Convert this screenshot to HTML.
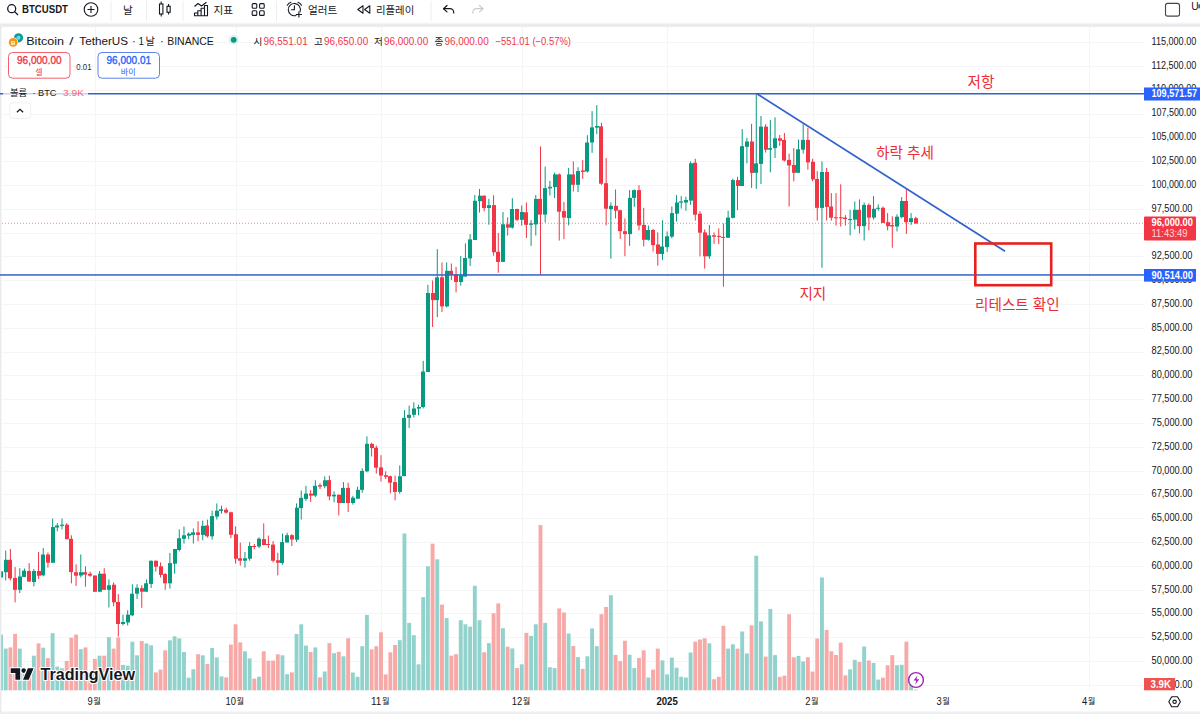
<!DOCTYPE html>
<html><head><meta charset="utf-8"><title>BTCUSDT</title><style>html,body{margin:0;padding:0;background:#fff;overflow:hidden}body{width:1200px;height:714px;font-family:"Liberation Sans","Noto Sans CJK KR",sans-serif}</style></head><body>
<svg width="1200" height="714" viewBox="0 0 1200 714" font-family="'Liberation Sans', 'Noto Sans CJK KR', sans-serif" style="display:block">
<rect width="1200" height="714" fill="#ffffff"/>
<rect x="0" y="23.500" width="1200" height="4" fill="#ebecee"/>
<rect x="0" y="22.500" width="1200" height="1" fill="#f5f6f7"/>
<rect x="0" y="27" width="1.3" height="687" fill="#e9eaec"/>
<path d="M1.300 714V30a3 3 0 0 1 3-3H1200V714Z" fill="#ffffff"/>
<rect x="0" y="711.500" width="1200" height="2.500" fill="#eeeff0"/>
<rect x="2" y="42" width="1142" height="1" fill="#f4f5f7"/>
<rect x="2" y="66" width="1142" height="1" fill="#f4f5f7"/>
<rect x="2" y="90" width="1142" height="1" fill="#f4f5f7"/>
<rect x="2" y="114" width="1142" height="1" fill="#f4f5f7"/>
<rect x="2" y="137" width="1142" height="1" fill="#f4f5f7"/>
<rect x="2" y="161" width="1142" height="1" fill="#f4f5f7"/>
<rect x="2" y="185" width="1142" height="1" fill="#f4f5f7"/>
<rect x="2" y="209" width="1142" height="1" fill="#f4f5f7"/>
<rect x="2" y="233" width="1142" height="1" fill="#f4f5f7"/>
<rect x="2" y="256" width="1142" height="1" fill="#f4f5f7"/>
<rect x="2" y="280" width="1142" height="1" fill="#f4f5f7"/>
<rect x="2" y="304" width="1142" height="1" fill="#f4f5f7"/>
<rect x="2" y="328" width="1142" height="1" fill="#f4f5f7"/>
<rect x="2" y="352" width="1142" height="1" fill="#f4f5f7"/>
<rect x="2" y="375" width="1142" height="1" fill="#f4f5f7"/>
<rect x="2" y="399" width="1142" height="1" fill="#f4f5f7"/>
<rect x="2" y="423" width="1142" height="1" fill="#f4f5f7"/>
<rect x="2" y="447" width="1142" height="1" fill="#f4f5f7"/>
<rect x="2" y="471" width="1142" height="1" fill="#f4f5f7"/>
<rect x="2" y="494" width="1142" height="1" fill="#f4f5f7"/>
<rect x="2" y="518" width="1142" height="1" fill="#f4f5f7"/>
<rect x="2" y="542" width="1142" height="1" fill="#f4f5f7"/>
<rect x="2" y="566" width="1142" height="1" fill="#f4f5f7"/>
<rect x="2" y="590" width="1142" height="1" fill="#f4f5f7"/>
<rect x="2" y="613" width="1142" height="1" fill="#f4f5f7"/>
<rect x="2" y="637" width="1142" height="1" fill="#f4f5f7"/>
<rect x="2" y="661" width="1142" height="1" fill="#f4f5f7"/>
<rect x="2" y="685" width="1142" height="1" fill="#f4f5f7"/>
<rect x="95" y="27" width="1" height="663" fill="#f4f5f7"/>
<rect x="236" y="27" width="1" height="663" fill="#f4f5f7"/>
<rect x="381" y="27" width="1" height="663" fill="#f4f5f7"/>
<rect x="522" y="27" width="1" height="663" fill="#f4f5f7"/>
<rect x="667" y="27" width="1" height="663" fill="#f4f5f7"/>
<rect x="813" y="27" width="1" height="663" fill="#f4f5f7"/>
<rect x="1089" y="27" width="1" height="663" fill="#f4f5f7"/>
<g shape-rendering="auto"><rect x="-0.93" y="634.6" width="3.9" height="55.7" fill="#92d2cc"/>
<rect x="3.76" y="648.6" width="3.9" height="41.7" fill="#92d2cc"/>
<rect x="8.45" y="647.4" width="3.9" height="42.9" fill="#f7a9a7"/>
<rect x="13.14" y="633.9" width="3.9" height="56.4" fill="#f7a9a7"/>
<rect x="17.83" y="648.6" width="3.9" height="41.7" fill="#92d2cc"/>
<rect x="22.53" y="670.3" width="3.9" height="20.0" fill="#92d2cc"/>
<rect x="27.22" y="672.3" width="3.9" height="18.0" fill="#f7a9a7"/>
<rect x="31.91" y="655.7" width="3.9" height="34.6" fill="#92d2cc"/>
<rect x="36.60" y="643.4" width="3.9" height="46.9" fill="#f7a9a7"/>
<rect x="41.29" y="647.7" width="3.9" height="42.6" fill="#92d2cc"/>
<rect x="45.98" y="658.2" width="3.9" height="32.1" fill="#f7a9a7"/>
<rect x="50.67" y="633.2" width="3.9" height="57.1" fill="#92d2cc"/>
<rect x="55.36" y="666.7" width="3.9" height="23.6" fill="#92d2cc"/>
<rect x="60.05" y="668.3" width="3.9" height="22.0" fill="#92d2cc"/>
<rect x="64.74" y="661.0" width="3.9" height="29.3" fill="#f7a9a7"/>
<rect x="69.44" y="637.7" width="3.9" height="52.6" fill="#f7a9a7"/>
<rect x="74.13" y="634.6" width="3.9" height="55.7" fill="#f7a9a7"/>
<rect x="78.82" y="649.2" width="3.9" height="41.1" fill="#92d2cc"/>
<rect x="83.51" y="647.4" width="3.9" height="42.9" fill="#f7a9a7"/>
<rect x="88.20" y="672.3" width="3.9" height="18.0" fill="#f7a9a7"/>
<rect x="92.89" y="658.9" width="3.9" height="31.4" fill="#f7a9a7"/>
<rect x="97.58" y="655.7" width="3.9" height="34.6" fill="#92d2cc"/>
<rect x="102.27" y="655.7" width="3.9" height="34.6" fill="#f7a9a7"/>
<rect x="106.96" y="637.2" width="3.9" height="53.1" fill="#92d2cc"/>
<rect x="111.65" y="648.6" width="3.9" height="41.7" fill="#f7a9a7"/>
<rect x="116.34" y="637.4" width="3.9" height="52.9" fill="#f7a9a7"/>
<rect x="121.04" y="664.9" width="3.9" height="25.4" fill="#92d2cc"/>
<rect x="125.73" y="665.7" width="3.9" height="24.6" fill="#92d2cc"/>
<rect x="130.42" y="641.7" width="3.9" height="48.6" fill="#92d2cc"/>
<rect x="135.11" y="655.3" width="3.9" height="35.0" fill="#92d2cc"/>
<rect x="139.80" y="641.0" width="3.9" height="49.3" fill="#f7a9a7"/>
<rect x="144.49" y="643.4" width="3.9" height="46.9" fill="#92d2cc"/>
<rect x="149.18" y="645.3" width="3.9" height="45.0" fill="#92d2cc"/>
<rect x="153.87" y="672.4" width="3.9" height="17.9" fill="#f7a9a7"/>
<rect x="158.56" y="669.6" width="3.9" height="20.7" fill="#f7a9a7"/>
<rect x="163.25" y="650.3" width="3.9" height="40.0" fill="#f7a9a7"/>
<rect x="167.95" y="640.3" width="3.9" height="50.0" fill="#92d2cc"/>
<rect x="172.64" y="636.3" width="3.9" height="54.0" fill="#92d2cc"/>
<rect x="177.33" y="638.4" width="3.9" height="51.9" fill="#92d2cc"/>
<rect x="182.02" y="652.0" width="3.9" height="38.3" fill="#92d2cc"/>
<rect x="186.71" y="677.7" width="3.9" height="12.6" fill="#92d2cc"/>
<rect x="191.40" y="669.2" width="3.9" height="21.1" fill="#92d2cc"/>
<rect x="196.09" y="654.2" width="3.9" height="36.1" fill="#f7a9a7"/>
<rect x="200.78" y="655.3" width="3.9" height="35.0" fill="#92d2cc"/>
<rect x="205.47" y="663.9" width="3.9" height="26.4" fill="#f7a9a7"/>
<rect x="210.17" y="648.0" width="3.9" height="42.3" fill="#92d2cc"/>
<rect x="214.86" y="657.4" width="3.9" height="32.9" fill="#92d2cc"/>
<rect x="219.55" y="676.4" width="3.9" height="13.9" fill="#92d2cc"/>
<rect x="224.24" y="677.4" width="3.9" height="12.9" fill="#f7a9a7"/>
<rect x="228.93" y="644.6" width="3.9" height="45.7" fill="#f7a9a7"/>
<rect x="233.62" y="624.3" width="3.9" height="66.0" fill="#f7a9a7"/>
<rect x="238.31" y="642.4" width="3.9" height="47.9" fill="#f7a9a7"/>
<rect x="243.00" y="651.3" width="3.9" height="39.0" fill="#92d2cc"/>
<rect x="247.69" y="658.4" width="3.9" height="31.9" fill="#92d2cc"/>
<rect x="252.38" y="678.6" width="3.9" height="11.7" fill="#f7a9a7"/>
<rect x="257.07" y="676.7" width="3.9" height="13.6" fill="#92d2cc"/>
<rect x="261.77" y="651.3" width="3.9" height="39.0" fill="#f7a9a7"/>
<rect x="266.46" y="660.6" width="3.9" height="29.7" fill="#f7a9a7"/>
<rect x="271.15" y="660.6" width="3.9" height="29.7" fill="#f7a9a7"/>
<rect x="275.84" y="654.3" width="3.9" height="36.0" fill="#f7a9a7"/>
<rect x="280.53" y="655.3" width="3.9" height="35.0" fill="#92d2cc"/>
<rect x="285.22" y="674.2" width="3.9" height="16.1" fill="#92d2cc"/>
<rect x="289.91" y="672.4" width="3.9" height="17.9" fill="#f7a9a7"/>
<rect x="294.60" y="633.9" width="3.9" height="56.4" fill="#92d2cc"/>
<rect x="299.29" y="624.3" width="3.9" height="66.0" fill="#92d2cc"/>
<rect x="303.99" y="645.6" width="3.9" height="44.7" fill="#92d2cc"/>
<rect x="308.68" y="652.0" width="3.9" height="38.3" fill="#f7a9a7"/>
<rect x="313.37" y="647.4" width="3.9" height="42.9" fill="#92d2cc"/>
<rect x="318.06" y="677.3" width="3.9" height="13.0" fill="#f7a9a7"/>
<rect x="322.75" y="671.5" width="3.9" height="18.8" fill="#92d2cc"/>
<rect x="327.44" y="643.1" width="3.9" height="47.2" fill="#f7a9a7"/>
<rect x="332.13" y="653.2" width="3.9" height="37.1" fill="#92d2cc"/>
<rect x="336.82" y="651.8" width="3.9" height="38.5" fill="#f7a9a7"/>
<rect x="341.51" y="656.3" width="3.9" height="34.0" fill="#92d2cc"/>
<rect x="346.20" y="638.3" width="3.9" height="52.0" fill="#f7a9a7"/>
<rect x="350.90" y="672.5" width="3.9" height="17.8" fill="#92d2cc"/>
<rect x="355.59" y="676.8" width="3.9" height="13.5" fill="#92d2cc"/>
<rect x="360.28" y="646.2" width="3.9" height="44.1" fill="#92d2cc"/>
<rect x="364.97" y="614.9" width="3.9" height="75.4" fill="#92d2cc"/>
<rect x="369.66" y="649.4" width="3.9" height="40.9" fill="#f7a9a7"/>
<rect x="374.35" y="646.2" width="3.9" height="44.1" fill="#f7a9a7"/>
<rect x="379.04" y="632.3" width="3.9" height="58.0" fill="#f7a9a7"/>
<rect x="383.73" y="674.4" width="3.9" height="15.9" fill="#f7a9a7"/>
<rect x="388.42" y="652.3" width="3.9" height="38.0" fill="#f7a9a7"/>
<rect x="393.11" y="645.0" width="3.9" height="45.3" fill="#f7a9a7"/>
<rect x="397.81" y="640.2" width="3.9" height="50.1" fill="#92d2cc"/>
<rect x="402.50" y="533.5" width="3.9" height="156.8" fill="#92d2cc"/>
<rect x="407.19" y="622.9" width="3.9" height="67.4" fill="#92d2cc"/>
<rect x="411.88" y="635.2" width="3.9" height="55.1" fill="#92d2cc"/>
<rect x="416.57" y="664.3" width="3.9" height="26.0" fill="#92d2cc"/>
<rect x="421.26" y="597.1" width="3.9" height="93.2" fill="#92d2cc"/>
<rect x="425.95" y="566.3" width="3.9" height="124.0" fill="#92d2cc"/>
<rect x="430.64" y="543.7" width="3.9" height="146.6" fill="#f7a9a7"/>
<rect x="435.33" y="559.3" width="3.9" height="131.0" fill="#92d2cc"/>
<rect x="440.02" y="604.6" width="3.9" height="85.7" fill="#f7a9a7"/>
<rect x="444.71" y="618.1" width="3.9" height="72.2" fill="#92d2cc"/>
<rect x="449.41" y="655.6" width="3.9" height="34.7" fill="#f7a9a7"/>
<rect x="454.10" y="654.2" width="3.9" height="36.1" fill="#f7a9a7"/>
<rect x="458.79" y="620.2" width="3.9" height="70.1" fill="#92d2cc"/>
<rect x="463.48" y="624.3" width="3.9" height="66.0" fill="#92d2cc"/>
<rect x="468.17" y="626.7" width="3.9" height="63.6" fill="#92d2cc"/>
<rect x="472.86" y="585.8" width="3.9" height="104.5" fill="#92d2cc"/>
<rect x="477.55" y="620.2" width="3.9" height="70.1" fill="#92d2cc"/>
<rect x="482.24" y="652.3" width="3.9" height="38.0" fill="#f7a9a7"/>
<rect x="486.93" y="643.1" width="3.9" height="47.2" fill="#92d2cc"/>
<rect x="491.63" y="613.3" width="3.9" height="77.0" fill="#f7a9a7"/>
<rect x="496.32" y="603.4" width="3.9" height="86.9" fill="#f7a9a7"/>
<rect x="501.01" y="628.2" width="3.9" height="62.1" fill="#92d2cc"/>
<rect x="505.70" y="646.7" width="3.9" height="43.6" fill="#f7a9a7"/>
<rect x="510.39" y="648.4" width="3.9" height="41.9" fill="#92d2cc"/>
<rect x="515.08" y="668.1" width="3.9" height="22.2" fill="#f7a9a7"/>
<rect x="519.77" y="664.3" width="3.9" height="26.0" fill="#92d2cc"/>
<rect x="524.46" y="632.8" width="3.9" height="57.5" fill="#f7a9a7"/>
<rect x="529.15" y="635.9" width="3.9" height="54.4" fill="#92d2cc"/>
<rect x="533.84" y="624.3" width="3.9" height="66.0" fill="#92d2cc"/>
<rect x="538.53" y="525.1" width="3.9" height="165.2" fill="#f7a9a7"/>
<rect x="543.23" y="622.9" width="3.9" height="67.4" fill="#92d2cc"/>
<rect x="547.92" y="667.2" width="3.9" height="23.1" fill="#92d2cc"/>
<rect x="552.61" y="668.1" width="3.9" height="22.2" fill="#92d2cc"/>
<rect x="557.30" y="608.4" width="3.9" height="81.9" fill="#f7a9a7"/>
<rect x="561.99" y="612.5" width="3.9" height="77.8" fill="#f7a9a7"/>
<rect x="566.68" y="633.5" width="3.9" height="56.8" fill="#92d2cc"/>
<rect x="571.37" y="646.0" width="3.9" height="44.3" fill="#f7a9a7"/>
<rect x="576.06" y="657.1" width="3.9" height="33.2" fill="#92d2cc"/>
<rect x="580.75" y="668.9" width="3.9" height="21.4" fill="#f7a9a7"/>
<rect x="585.44" y="656.3" width="3.9" height="34.0" fill="#92d2cc"/>
<rect x="590.14" y="628.4" width="3.9" height="61.9" fill="#92d2cc"/>
<rect x="594.83" y="646.2" width="3.9" height="44.1" fill="#92d2cc"/>
<rect x="599.52" y="614.2" width="3.9" height="76.1" fill="#f7a9a7"/>
<rect x="604.21" y="607.0" width="3.9" height="83.3" fill="#f7a9a7"/>
<rect x="608.90" y="595.2" width="3.9" height="95.1" fill="#92d2cc"/>
<rect x="613.59" y="654.9" width="3.9" height="35.4" fill="#f7a9a7"/>
<rect x="618.28" y="661.2" width="3.9" height="29.1" fill="#f7a9a7"/>
<rect x="622.97" y="640.7" width="3.9" height="49.6" fill="#f7a9a7"/>
<rect x="627.66" y="654.7" width="3.9" height="35.6" fill="#92d2cc"/>
<rect x="632.36" y="668.1" width="3.9" height="22.2" fill="#92d2cc"/>
<rect x="637.05" y="658.0" width="3.9" height="32.3" fill="#f7a9a7"/>
<rect x="641.74" y="650.3" width="3.9" height="40.0" fill="#f7a9a7"/>
<rect x="646.43" y="677.5" width="3.9" height="12.8" fill="#92d2cc"/>
<rect x="651.12" y="669.6" width="3.9" height="20.7" fill="#f7a9a7"/>
<rect x="655.81" y="648.6" width="3.9" height="41.7" fill="#f7a9a7"/>
<rect x="660.50" y="660.4" width="3.9" height="29.9" fill="#92d2cc"/>
<rect x="665.19" y="674.4" width="3.9" height="15.9" fill="#92d2cc"/>
<rect x="669.88" y="657.6" width="3.9" height="32.7" fill="#92d2cc"/>
<rect x="674.57" y="667.7" width="3.9" height="22.6" fill="#92d2cc"/>
<rect x="679.26" y="676.8" width="3.9" height="13.5" fill="#92d2cc"/>
<rect x="683.96" y="677.5" width="3.9" height="12.8" fill="#92d2cc"/>
<rect x="688.65" y="652.5" width="3.9" height="37.8" fill="#92d2cc"/>
<rect x="693.34" y="641.7" width="3.9" height="48.6" fill="#f7a9a7"/>
<rect x="698.03" y="639.5" width="3.9" height="50.8" fill="#f7a9a7"/>
<rect x="702.72" y="638.3" width="3.9" height="52.0" fill="#f7a9a7"/>
<rect x="707.41" y="643.3" width="3.9" height="47.0" fill="#92d2cc"/>
<rect x="712.10" y="679.2" width="3.9" height="11.1" fill="#f7a9a7"/>
<rect x="716.79" y="676.8" width="3.9" height="13.5" fill="#f7a9a7"/>
<rect x="721.48" y="625.8" width="3.9" height="64.5" fill="#f7a9a7"/>
<rect x="726.17" y="648.6" width="3.9" height="41.7" fill="#92d2cc"/>
<rect x="730.87" y="644.3" width="3.9" height="46.0" fill="#92d2cc"/>
<rect x="735.56" y="648.6" width="3.9" height="41.7" fill="#f7a9a7"/>
<rect x="740.25" y="631.5" width="3.9" height="58.8" fill="#92d2cc"/>
<rect x="744.94" y="653.5" width="3.9" height="36.8" fill="#92d2cc"/>
<rect x="749.63" y="625.3" width="3.9" height="65.0" fill="#f7a9a7"/>
<rect x="754.32" y="555.7" width="3.9" height="134.6" fill="#92d2cc"/>
<rect x="759.01" y="621.4" width="3.9" height="68.9" fill="#92d2cc"/>
<rect x="763.70" y="656.6" width="3.9" height="33.7" fill="#f7a9a7"/>
<rect x="768.39" y="608.9" width="3.9" height="81.4" fill="#92d2cc"/>
<rect x="773.08" y="655.1" width="3.9" height="35.2" fill="#92d2cc"/>
<rect x="777.78" y="676.8" width="3.9" height="13.5" fill="#f7a9a7"/>
<rect x="782.47" y="675.6" width="3.9" height="14.7" fill="#f7a9a7"/>
<rect x="787.16" y="614.2" width="3.9" height="76.1" fill="#f7a9a7"/>
<rect x="791.85" y="657.3" width="3.9" height="33.0" fill="#f7a9a7"/>
<rect x="796.54" y="655.9" width="3.9" height="34.4" fill="#92d2cc"/>
<rect x="801.23" y="661.4" width="3.9" height="28.9" fill="#92d2cc"/>
<rect x="805.92" y="657.3" width="3.9" height="33.0" fill="#f7a9a7"/>
<rect x="810.61" y="671.6" width="3.9" height="18.7" fill="#f7a9a7"/>
<rect x="815.30" y="638.5" width="3.9" height="51.8" fill="#f7a9a7"/>
<rect x="820.00" y="577.5" width="3.9" height="112.8" fill="#92d2cc"/>
<rect x="824.69" y="630.0" width="3.9" height="60.3" fill="#f7a9a7"/>
<rect x="829.38" y="651.3" width="3.9" height="39.0" fill="#f7a9a7"/>
<rect x="834.07" y="655.0" width="3.9" height="35.3" fill="#f7a9a7"/>
<rect x="838.76" y="642.6" width="3.9" height="47.7" fill="#f7a9a7"/>
<rect x="843.45" y="675.3" width="3.9" height="15.0" fill="#f7a9a7"/>
<rect x="848.14" y="669.4" width="3.9" height="20.9" fill="#92d2cc"/>
<rect x="852.83" y="659.8" width="3.9" height="30.5" fill="#92d2cc"/>
<rect x="857.52" y="662.0" width="3.9" height="28.3" fill="#f7a9a7"/>
<rect x="862.21" y="646.5" width="3.9" height="43.8" fill="#92d2cc"/>
<rect x="866.90" y="660.5" width="3.9" height="29.8" fill="#f7a9a7"/>
<rect x="871.60" y="662.9" width="3.9" height="27.4" fill="#92d2cc"/>
<rect x="876.29" y="679.6" width="3.9" height="10.7" fill="#92d2cc"/>
<rect x="880.98" y="677.7" width="3.9" height="12.6" fill="#f7a9a7"/>
<rect x="885.67" y="665.3" width="3.9" height="25.0" fill="#f7a9a7"/>
<rect x="890.36" y="655.2" width="3.9" height="35.1" fill="#f7a9a7"/>
<rect x="895.05" y="665.3" width="3.9" height="25.0" fill="#92d2cc"/>
<rect x="899.74" y="664.8" width="3.9" height="25.5" fill="#92d2cc"/>
<rect x="904.43" y="641.7" width="3.9" height="48.6" fill="#f7a9a7"/>
<rect x="909.12" y="678.7" width="3.9" height="11.6" fill="#92d2cc"/>
<rect x="913.81" y="689.5" width="3.9" height="0.8" fill="#f7a9a7"/>
<rect x="0.52" y="571.4" width="1" height="6.1" fill="#089981"/>
<rect x="-1" y="571.4" width="4" height="6.1" fill="#089981"/>
<rect x="5.21" y="550.6" width="1" height="29.8" fill="#089981"/>
<rect x="4" y="559.8" width="4" height="12.4" fill="#089981"/>
<rect x="9.90" y="549.0" width="1" height="31.4" fill="#f23645"/>
<rect x="8" y="559.8" width="4" height="18.6" fill="#f23645"/>
<rect x="14.59" y="567.1" width="1" height="35.3" fill="#f23645"/>
<rect x="13" y="578.0" width="4" height="11.8" fill="#f23645"/>
<rect x="19.28" y="568.2" width="1" height="24.9" fill="#089981"/>
<rect x="18" y="576.5" width="4" height="13.3" fill="#089981"/>
<rect x="23.98" y="568.6" width="1" height="8.2" fill="#089981"/>
<rect x="22" y="570.6" width="4" height="6.3" fill="#089981"/>
<rect x="28.67" y="563.1" width="1" height="18.4" fill="#f23645"/>
<rect x="27" y="571.0" width="4" height="10.6" fill="#f23645"/>
<rect x="33.36" y="569.0" width="1" height="17.3" fill="#089981"/>
<rect x="32" y="571.0" width="4" height="11.0" fill="#089981"/>
<rect x="38.05" y="552.0" width="1" height="26.9" fill="#f23645"/>
<rect x="37" y="571.0" width="4" height="4.7" fill="#f23645"/>
<rect x="42.74" y="548.0" width="1" height="28.4" fill="#089981"/>
<rect x="41" y="554.5" width="4" height="20.8" fill="#089981"/>
<rect x="47.43" y="552.5" width="1" height="15.1" fill="#f23645"/>
<rect x="46" y="554.5" width="4" height="8.2" fill="#f23645"/>
<rect x="52.12" y="518.6" width="1" height="44.1" fill="#089981"/>
<rect x="51" y="527.1" width="4" height="35.7" fill="#089981"/>
<rect x="56.81" y="523.1" width="1" height="8.2" fill="#089981"/>
<rect x="55" y="525.5" width="4" height="2.0" fill="#089981"/>
<rect x="61.50" y="518.6" width="1" height="10.8" fill="#089981"/>
<rect x="60" y="524.7" width="4" height="1.2" fill="#089981"/>
<rect x="66.19" y="523.1" width="1" height="16.1" fill="#f23645"/>
<rect x="65" y="524.7" width="4" height="14.5" fill="#f23645"/>
<rect x="70.89" y="535.3" width="1" height="48.0" fill="#f23645"/>
<rect x="69" y="538.8" width="4" height="33.3" fill="#f23645"/>
<rect x="75.58" y="564.3" width="1" height="21.6" fill="#f23645"/>
<rect x="74" y="572.2" width="4" height="3.5" fill="#f23645"/>
<rect x="80.27" y="554.5" width="1" height="22.9" fill="#089981"/>
<rect x="79" y="572.2" width="4" height="3.3" fill="#089981"/>
<rect x="84.96" y="566.3" width="1" height="20.4" fill="#f23645"/>
<rect x="83" y="572.2" width="4" height="2.4" fill="#f23645"/>
<rect x="89.65" y="571.6" width="1" height="5.3" fill="#f23645"/>
<rect x="88" y="573.7" width="4" height="2.0" fill="#f23645"/>
<rect x="94.34" y="575.5" width="1" height="16.3" fill="#f23645"/>
<rect x="93" y="575.5" width="4" height="16.3" fill="#f23645"/>
<rect x="99.03" y="571.0" width="1" height="21.2" fill="#089981"/>
<rect x="98" y="573.7" width="4" height="18.0" fill="#089981"/>
<rect x="103.72" y="568.2" width="1" height="21.6" fill="#f23645"/>
<rect x="102" y="573.7" width="4" height="16.1" fill="#f23645"/>
<rect x="108.41" y="579.4" width="1" height="28.0" fill="#089981"/>
<rect x="107" y="585.3" width="4" height="4.5" fill="#089981"/>
<rect x="113.10" y="582.4" width="1" height="23.9" fill="#f23645"/>
<rect x="112" y="584.7" width="4" height="17.6" fill="#f23645"/>
<rect x="117.80" y="594.1" width="1" height="42.5" fill="#f23645"/>
<rect x="116" y="602.0" width="4" height="22.0" fill="#f23645"/>
<rect x="122.49" y="614.7" width="1" height="10.8" fill="#089981"/>
<rect x="121" y="622.0" width="4" height="2.0" fill="#089981"/>
<rect x="127.18" y="610.2" width="1" height="15.3" fill="#089981"/>
<rect x="126" y="614.7" width="4" height="7.8" fill="#089981"/>
<rect x="131.87" y="584.3" width="1" height="31.8" fill="#089981"/>
<rect x="130" y="593.7" width="4" height="21.6" fill="#089981"/>
<rect x="136.56" y="584.3" width="1" height="14.7" fill="#089981"/>
<rect x="135" y="587.8" width="4" height="5.9" fill="#089981"/>
<rect x="141.25" y="585.3" width="1" height="22.5" fill="#f23645"/>
<rect x="140" y="588.2" width="4" height="3.5" fill="#f23645"/>
<rect x="145.94" y="579.4" width="1" height="12.4" fill="#089981"/>
<rect x="144" y="583.3" width="4" height="8.4" fill="#089981"/>
<rect x="150.63" y="560.4" width="1" height="27.5" fill="#089981"/>
<rect x="149" y="560.8" width="4" height="23.1" fill="#089981"/>
<rect x="155.32" y="560.4" width="1" height="11.2" fill="#f23645"/>
<rect x="154" y="560.8" width="4" height="5.9" fill="#f23645"/>
<rect x="160.01" y="562.4" width="1" height="15.1" fill="#f23645"/>
<rect x="159" y="566.3" width="4" height="8.6" fill="#f23645"/>
<rect x="164.70" y="572.9" width="1" height="16.9" fill="#f23645"/>
<rect x="163" y="574.1" width="4" height="9.2" fill="#f23645"/>
<rect x="169.40" y="552.9" width="1" height="35.7" fill="#089981"/>
<rect x="168" y="563.1" width="4" height="20.2" fill="#089981"/>
<rect x="174.09" y="549.0" width="1" height="24.5" fill="#089981"/>
<rect x="173" y="549.0" width="4" height="14.7" fill="#089981"/>
<rect x="178.78" y="529.4" width="1" height="22.0" fill="#089981"/>
<rect x="177" y="538.2" width="4" height="11.8" fill="#089981"/>
<rect x="183.47" y="526.5" width="1" height="17.1" fill="#089981"/>
<rect x="182" y="535.3" width="4" height="3.5" fill="#089981"/>
<rect x="188.16" y="532.4" width="1" height="6.9" fill="#089981"/>
<rect x="187" y="533.7" width="4" height="2.0" fill="#089981"/>
<rect x="192.85" y="528.4" width="1" height="15.1" fill="#089981"/>
<rect x="191" y="532.4" width="4" height="2.5" fill="#089981"/>
<rect x="197.54" y="521.2" width="1" height="20.0" fill="#f23645"/>
<rect x="196" y="532.4" width="4" height="2.5" fill="#f23645"/>
<rect x="202.23" y="520.6" width="1" height="19.6" fill="#089981"/>
<rect x="201" y="525.9" width="4" height="9.0" fill="#089981"/>
<rect x="206.92" y="519.6" width="1" height="18.0" fill="#f23645"/>
<rect x="205" y="525.5" width="4" height="10.8" fill="#f23645"/>
<rect x="211.62" y="510.8" width="1" height="28.8" fill="#089981"/>
<rect x="210" y="516.1" width="4" height="20.2" fill="#089981"/>
<rect x="216.31" y="503.4" width="1" height="16.1" fill="#089981"/>
<rect x="215" y="510.7" width="4" height="5.9" fill="#089981"/>
<rect x="221.00" y="505.8" width="1" height="7.8" fill="#089981"/>
<rect x="219" y="509.3" width="4" height="1.6" fill="#089981"/>
<rect x="225.69" y="507.7" width="1" height="5.9" fill="#f23645"/>
<rect x="224" y="509.7" width="4" height="2.9" fill="#f23645"/>
<rect x="230.38" y="511.7" width="1" height="26.5" fill="#f23645"/>
<rect x="229" y="512.3" width="4" height="22.5" fill="#f23645"/>
<rect x="235.07" y="526.4" width="1" height="37.3" fill="#f23645"/>
<rect x="234" y="534.2" width="4" height="24.5" fill="#f23645"/>
<rect x="239.76" y="542.6" width="1" height="22.9" fill="#f23645"/>
<rect x="238" y="558.3" width="4" height="2.4" fill="#f23645"/>
<rect x="244.45" y="551.9" width="1" height="15.7" fill="#089981"/>
<rect x="243" y="558.3" width="4" height="2.4" fill="#089981"/>
<rect x="249.14" y="542.1" width="1" height="18.6" fill="#089981"/>
<rect x="248" y="546.0" width="4" height="12.7" fill="#089981"/>
<rect x="253.83" y="544.0" width="1" height="5.3" fill="#f23645"/>
<rect x="252" y="546.0" width="4" height="1.0" fill="#f23645"/>
<rect x="258.52" y="537.2" width="1" height="10.8" fill="#089981"/>
<rect x="257" y="538.7" width="4" height="7.8" fill="#089981"/>
<rect x="263.22" y="523.4" width="1" height="22.0" fill="#f23645"/>
<rect x="262" y="539.1" width="4" height="5.9" fill="#f23645"/>
<rect x="267.91" y="535.6" width="1" height="12.4" fill="#f23645"/>
<rect x="266" y="544.0" width="4" height="1.0" fill="#f23645"/>
<rect x="272.60" y="541.1" width="1" height="21.2" fill="#f23645"/>
<rect x="271" y="544.6" width="4" height="16.1" fill="#f23645"/>
<rect x="277.29" y="552.8" width="1" height="22.5" fill="#f23645"/>
<rect x="276" y="560.3" width="4" height="2.4" fill="#f23645"/>
<rect x="281.98" y="533.6" width="1" height="31.0" fill="#089981"/>
<rect x="280" y="542.1" width="4" height="21.0" fill="#089981"/>
<rect x="286.67" y="532.8" width="1" height="9.6" fill="#089981"/>
<rect x="285" y="535.2" width="4" height="7.3" fill="#089981"/>
<rect x="291.36" y="534.2" width="1" height="11.8" fill="#f23645"/>
<rect x="290" y="535.2" width="4" height="4.3" fill="#f23645"/>
<rect x="296.05" y="503.4" width="1" height="38.6" fill="#089981"/>
<rect x="295" y="507.7" width="4" height="32.0" fill="#089981"/>
<rect x="300.74" y="490.5" width="1" height="29.0" fill="#089981"/>
<rect x="299" y="497.9" width="4" height="10.2" fill="#089981"/>
<rect x="305.44" y="485.8" width="1" height="15.1" fill="#089981"/>
<rect x="304" y="493.6" width="4" height="5.3" fill="#089981"/>
<rect x="310.13" y="490.1" width="1" height="11.8" fill="#f23645"/>
<rect x="309" y="493.6" width="4" height="2.0" fill="#f23645"/>
<rect x="314.82" y="480.3" width="1" height="16.7" fill="#089981"/>
<rect x="313" y="485.8" width="4" height="9.8" fill="#089981"/>
<rect x="319.51" y="483.2" width="1" height="5.9" fill="#f23645"/>
<rect x="318" y="485.2" width="4" height="1.4" fill="#f23645"/>
<rect x="324.20" y="476.4" width="1" height="11.8" fill="#089981"/>
<rect x="323" y="480.3" width="4" height="5.9" fill="#089981"/>
<rect x="328.89" y="475.6" width="1" height="24.7" fill="#f23645"/>
<rect x="327" y="480.1" width="4" height="16.3" fill="#f23645"/>
<rect x="333.58" y="491.3" width="1" height="11.0" fill="#089981"/>
<rect x="332" y="494.8" width="4" height="1.6" fill="#089981"/>
<rect x="338.27" y="494.4" width="1" height="21.0" fill="#f23645"/>
<rect x="337" y="494.8" width="4" height="8.2" fill="#f23645"/>
<rect x="342.96" y="482.1" width="1" height="21.0" fill="#089981"/>
<rect x="341" y="487.9" width="4" height="15.1" fill="#089981"/>
<rect x="347.65" y="482.6" width="1" height="29.4" fill="#f23645"/>
<rect x="346" y="487.9" width="4" height="15.1" fill="#f23645"/>
<rect x="352.35" y="495.8" width="1" height="8.8" fill="#089981"/>
<rect x="351" y="497.7" width="4" height="5.3" fill="#089981"/>
<rect x="357.04" y="486.6" width="1" height="12.2" fill="#089981"/>
<rect x="356" y="489.9" width="4" height="8.8" fill="#089981"/>
<rect x="361.73" y="468.3" width="1" height="24.5" fill="#089981"/>
<rect x="360" y="470.9" width="4" height="19.0" fill="#089981"/>
<rect x="366.42" y="436.4" width="1" height="35.9" fill="#089981"/>
<rect x="365" y="443.8" width="4" height="27.5" fill="#089981"/>
<rect x="371.11" y="442.8" width="1" height="13.7" fill="#f23645"/>
<rect x="370" y="443.8" width="4" height="4.3" fill="#f23645"/>
<rect x="375.80" y="445.4" width="1" height="28.2" fill="#f23645"/>
<rect x="374" y="447.7" width="4" height="20.0" fill="#f23645"/>
<rect x="380.49" y="455.2" width="1" height="26.3" fill="#f23645"/>
<rect x="379" y="467.4" width="4" height="8.2" fill="#f23645"/>
<rect x="385.18" y="471.3" width="1" height="7.8" fill="#f23645"/>
<rect x="384" y="475.2" width="4" height="1.6" fill="#f23645"/>
<rect x="389.87" y="475.6" width="1" height="17.6" fill="#f23645"/>
<rect x="388" y="476.2" width="4" height="6.5" fill="#f23645"/>
<rect x="394.56" y="475.6" width="1" height="24.7" fill="#f23645"/>
<rect x="393" y="482.1" width="4" height="9.8" fill="#f23645"/>
<rect x="399.25" y="465.4" width="1" height="28.4" fill="#089981"/>
<rect x="398" y="476.2" width="4" height="15.7" fill="#089981"/>
<rect x="403.95" y="410.1" width="1" height="66.1" fill="#089981"/>
<rect x="402" y="417.9" width="4" height="58.2" fill="#089981"/>
<rect x="408.64" y="405.6" width="1" height="22.5" fill="#089981"/>
<rect x="407" y="414.8" width="4" height="3.1" fill="#089981"/>
<rect x="413.33" y="402.3" width="1" height="15.1" fill="#089981"/>
<rect x="412" y="408.5" width="4" height="6.3" fill="#089981"/>
<rect x="418.02" y="404.6" width="1" height="10.8" fill="#089981"/>
<rect x="417" y="407.0" width="4" height="1.6" fill="#089981"/>
<rect x="422.71" y="360.9" width="1" height="47.5" fill="#089981"/>
<rect x="421" y="371.5" width="4" height="35.5" fill="#089981"/>
<rect x="427.40" y="284.8" width="1" height="87.3" fill="#089981"/>
<rect x="426" y="293.0" width="4" height="79.0" fill="#089981"/>
<rect x="432.09" y="280.5" width="1" height="46.5" fill="#f23645"/>
<rect x="431" y="293.0" width="4" height="7.1" fill="#f23645"/>
<rect x="436.78" y="249.2" width="1" height="67.9" fill="#089981"/>
<rect x="435" y="277.3" width="4" height="22.8" fill="#089981"/>
<rect x="441.47" y="262.4" width="1" height="49.5" fill="#f23645"/>
<rect x="440" y="277.3" width="4" height="29.1" fill="#f23645"/>
<rect x="446.16" y="262.4" width="1" height="45.0" fill="#089981"/>
<rect x="445" y="270.8" width="4" height="35.6" fill="#089981"/>
<rect x="450.86" y="263.5" width="1" height="16.5" fill="#f23645"/>
<rect x="449" y="270.8" width="4" height="3.9" fill="#f23645"/>
<rect x="455.55" y="266.9" width="1" height="25.5" fill="#f23645"/>
<rect x="454" y="274.7" width="4" height="7.3" fill="#f23645"/>
<rect x="460.24" y="256.1" width="1" height="29.4" fill="#089981"/>
<rect x="459" y="275.3" width="4" height="6.7" fill="#089981"/>
<rect x="464.93" y="243.3" width="1" height="33.3" fill="#089981"/>
<rect x="463" y="258.0" width="4" height="18.6" fill="#089981"/>
<rect x="469.62" y="234.1" width="1" height="31.8" fill="#089981"/>
<rect x="468" y="239.4" width="4" height="19.0" fill="#089981"/>
<rect x="474.31" y="194.9" width="1" height="45.1" fill="#089981"/>
<rect x="473" y="200.8" width="4" height="39.2" fill="#089981"/>
<rect x="479.00" y="189.0" width="1" height="23.5" fill="#089981"/>
<rect x="478" y="195.7" width="4" height="5.5" fill="#089981"/>
<rect x="483.69" y="195.3" width="1" height="16.1" fill="#f23645"/>
<rect x="482" y="195.7" width="4" height="12.4" fill="#f23645"/>
<rect x="488.38" y="198.8" width="1" height="25.9" fill="#089981"/>
<rect x="487" y="205.1" width="4" height="2.9" fill="#089981"/>
<rect x="493.08" y="195.3" width="1" height="60.4" fill="#f23645"/>
<rect x="492" y="205.1" width="4" height="47.1" fill="#f23645"/>
<rect x="497.77" y="232.9" width="1" height="39.8" fill="#f23645"/>
<rect x="496" y="251.8" width="4" height="10.2" fill="#f23645"/>
<rect x="502.46" y="212.0" width="1" height="50.0" fill="#089981"/>
<rect x="501" y="224.3" width="4" height="37.6" fill="#089981"/>
<rect x="507.15" y="217.3" width="1" height="18.2" fill="#f23645"/>
<rect x="506" y="224.3" width="4" height="3.3" fill="#f23645"/>
<rect x="511.84" y="198.2" width="1" height="30.4" fill="#089981"/>
<rect x="510" y="209.0" width="4" height="18.6" fill="#089981"/>
<rect x="516.53" y="208.6" width="1" height="12.5" fill="#f23645"/>
<rect x="515" y="209.0" width="4" height="10.8" fill="#f23645"/>
<rect x="521.22" y="205.5" width="1" height="20.2" fill="#089981"/>
<rect x="520" y="212.0" width="4" height="7.8" fill="#089981"/>
<rect x="525.91" y="202.5" width="1" height="35.6" fill="#f23645"/>
<rect x="524" y="212.3" width="4" height="12.5" fill="#f23645"/>
<rect x="530.60" y="220.1" width="1" height="25.8" fill="#089981"/>
<rect x="529" y="223.4" width="4" height="1.4" fill="#089981"/>
<rect x="535.29" y="195.0" width="1" height="40.5" fill="#089981"/>
<rect x="534" y="198.9" width="4" height="25.5" fill="#089981"/>
<rect x="539.99" y="146.4" width="1" height="128.5" fill="#f23645"/>
<rect x="538" y="198.9" width="4" height="15.7" fill="#f23645"/>
<rect x="544.68" y="166.6" width="1" height="55.9" fill="#089981"/>
<rect x="543" y="188.1" width="4" height="26.5" fill="#089981"/>
<rect x="549.37" y="180.9" width="1" height="14.5" fill="#089981"/>
<rect x="548" y="186.8" width="4" height="1.6" fill="#089981"/>
<rect x="554.06" y="172.5" width="1" height="25.5" fill="#089981"/>
<rect x="553" y="174.4" width="4" height="12.7" fill="#089981"/>
<rect x="558.75" y="173.4" width="1" height="67.2" fill="#f23645"/>
<rect x="557" y="174.4" width="4" height="37.3" fill="#f23645"/>
<rect x="563.44" y="201.9" width="1" height="37.2" fill="#f23645"/>
<rect x="562" y="211.1" width="4" height="6.5" fill="#f23645"/>
<rect x="568.13" y="167.9" width="1" height="57.5" fill="#089981"/>
<rect x="567" y="174.4" width="4" height="43.7" fill="#089981"/>
<rect x="572.82" y="161.3" width="1" height="30.2" fill="#f23645"/>
<rect x="571" y="174.4" width="4" height="10.4" fill="#f23645"/>
<rect x="577.51" y="167.2" width="1" height="24.9" fill="#089981"/>
<rect x="576" y="171.1" width="4" height="13.7" fill="#089981"/>
<rect x="582.20" y="160.1" width="1" height="18.8" fill="#f23645"/>
<rect x="581" y="170.5" width="4" height="1.4" fill="#f23645"/>
<rect x="586.89" y="135.2" width="1" height="37.3" fill="#089981"/>
<rect x="585" y="142.5" width="4" height="29.0" fill="#089981"/>
<rect x="591.59" y="111.1" width="1" height="41.8" fill="#089981"/>
<rect x="590" y="127.4" width="4" height="15.1" fill="#089981"/>
<rect x="596.28" y="105.2" width="1" height="29.0" fill="#089981"/>
<rect x="595" y="126.0" width="4" height="1.6" fill="#089981"/>
<rect x="600.97" y="122.8" width="1" height="62.0" fill="#f23645"/>
<rect x="599" y="126.4" width="4" height="57.3" fill="#f23645"/>
<rect x="605.66" y="158.1" width="1" height="67.3" fill="#f23645"/>
<rect x="604" y="183.2" width="4" height="25.5" fill="#f23645"/>
<rect x="610.35" y="202.5" width="1" height="56.2" fill="#089981"/>
<rect x="609" y="205.8" width="4" height="3.3" fill="#089981"/>
<rect x="615.04" y="189.5" width="1" height="29.0" fill="#f23645"/>
<rect x="614" y="205.8" width="4" height="4.9" fill="#f23645"/>
<rect x="619.73" y="209.7" width="1" height="29.3" fill="#f23645"/>
<rect x="618" y="210.3" width="4" height="20.9" fill="#f23645"/>
<rect x="624.42" y="218.4" width="1" height="37.8" fill="#f23645"/>
<rect x="623" y="231.2" width="4" height="2.9" fill="#f23645"/>
<rect x="629.11" y="190.1" width="1" height="55.8" fill="#089981"/>
<rect x="628" y="197.9" width="4" height="36.2" fill="#089981"/>
<rect x="633.81" y="189.5" width="1" height="17.3" fill="#089981"/>
<rect x="632" y="190.1" width="4" height="7.8" fill="#089981"/>
<rect x="638.50" y="185.2" width="1" height="45.1" fill="#f23645"/>
<rect x="637" y="190.1" width="4" height="35.3" fill="#f23645"/>
<rect x="643.19" y="207.8" width="1" height="38.6" fill="#f23645"/>
<rect x="642" y="224.9" width="4" height="14.9" fill="#f23645"/>
<rect x="647.88" y="225.5" width="1" height="15.1" fill="#089981"/>
<rect x="646" y="230.0" width="4" height="9.8" fill="#089981"/>
<rect x="652.57" y="228.8" width="1" height="22.7" fill="#f23645"/>
<rect x="651" y="230.0" width="4" height="15.1" fill="#f23645"/>
<rect x="657.26" y="232.4" width="1" height="33.3" fill="#f23645"/>
<rect x="656" y="244.5" width="4" height="9.4" fill="#f23645"/>
<rect x="661.95" y="220.2" width="1" height="40.0" fill="#089981"/>
<rect x="660" y="246.5" width="4" height="7.5" fill="#089981"/>
<rect x="666.64" y="231.4" width="1" height="20.6" fill="#089981"/>
<rect x="665" y="236.3" width="4" height="10.8" fill="#089981"/>
<rect x="671.33" y="206.5" width="1" height="31.8" fill="#089981"/>
<rect x="670" y="213.1" width="4" height="23.5" fill="#089981"/>
<rect x="676.02" y="195.1" width="1" height="26.5" fill="#089981"/>
<rect x="675" y="202.5" width="4" height="11.2" fill="#089981"/>
<rect x="680.72" y="196.1" width="1" height="12.4" fill="#089981"/>
<rect x="679" y="201.4" width="4" height="1.2" fill="#089981"/>
<rect x="685.41" y="196.7" width="1" height="14.1" fill="#089981"/>
<rect x="684" y="200.0" width="4" height="2.5" fill="#089981"/>
<rect x="690.10" y="161.4" width="1" height="43.5" fill="#089981"/>
<rect x="689" y="163.3" width="4" height="37.3" fill="#089981"/>
<rect x="694.79" y="158.8" width="1" height="61.8" fill="#f23645"/>
<rect x="693" y="162.7" width="4" height="52.0" fill="#f23645"/>
<rect x="699.48" y="211.2" width="1" height="45.1" fill="#f23645"/>
<rect x="698" y="213.7" width="4" height="19.0" fill="#f23645"/>
<rect x="704.17" y="229.4" width="1" height="39.2" fill="#f23645"/>
<rect x="703" y="232.4" width="4" height="23.9" fill="#f23645"/>
<rect x="708.86" y="224.9" width="1" height="33.9" fill="#089981"/>
<rect x="707" y="235.3" width="4" height="21.0" fill="#089981"/>
<rect x="713.55" y="232.4" width="1" height="11.4" fill="#f23645"/>
<rect x="712" y="235.3" width="4" height="1.4" fill="#f23645"/>
<rect x="718.24" y="228.4" width="1" height="15.7" fill="#f23645"/>
<rect x="717" y="235.9" width="4" height="1.0" fill="#f23645"/>
<rect x="722.93" y="223.5" width="1" height="63.3" fill="#f23645"/>
<rect x="721" y="236.9" width="4" height="1.0" fill="#f23645"/>
<rect x="727.62" y="210.8" width="1" height="27.1" fill="#089981"/>
<rect x="726" y="217.6" width="4" height="20.2" fill="#089981"/>
<rect x="732.32" y="178.7" width="1" height="39.6" fill="#089981"/>
<rect x="731" y="180.1" width="4" height="37.8" fill="#089981"/>
<rect x="737.01" y="176.8" width="1" height="33.3" fill="#f23645"/>
<rect x="736" y="180.1" width="4" height="5.9" fill="#f23645"/>
<rect x="741.70" y="129.1" width="1" height="56.9" fill="#089981"/>
<rect x="740" y="146.2" width="4" height="39.8" fill="#089981"/>
<rect x="746.39" y="137.9" width="1" height="25.5" fill="#089981"/>
<rect x="745" y="141.5" width="4" height="5.3" fill="#089981"/>
<rect x="751.08" y="123.8" width="1" height="64.1" fill="#f23645"/>
<rect x="750" y="141.5" width="4" height="31.4" fill="#f23645"/>
<rect x="755.77" y="93.8" width="1" height="95.1" fill="#089981"/>
<rect x="754" y="163.4" width="4" height="9.4" fill="#089981"/>
<rect x="760.46" y="116.0" width="1" height="68.0" fill="#089981"/>
<rect x="759" y="126.6" width="4" height="37.3" fill="#089981"/>
<rect x="765.15" y="124.2" width="1" height="28.4" fill="#f23645"/>
<rect x="764" y="126.6" width="4" height="23.1" fill="#f23645"/>
<rect x="769.84" y="119.9" width="1" height="52.4" fill="#089981"/>
<rect x="768" y="148.1" width="4" height="1.6" fill="#089981"/>
<rect x="774.53" y="117.4" width="1" height="40.6" fill="#089981"/>
<rect x="773" y="138.3" width="4" height="9.8" fill="#089981"/>
<rect x="779.23" y="135.0" width="1" height="10.8" fill="#f23645"/>
<rect x="778" y="138.3" width="4" height="2.5" fill="#f23645"/>
<rect x="783.92" y="133.0" width="1" height="28.4" fill="#f23645"/>
<rect x="782" y="139.9" width="4" height="20.6" fill="#f23645"/>
<rect x="788.61" y="153.6" width="1" height="52.9" fill="#f23645"/>
<rect x="787" y="159.9" width="4" height="5.5" fill="#f23645"/>
<rect x="793.30" y="148.1" width="1" height="33.3" fill="#f23645"/>
<rect x="792" y="165.0" width="4" height="7.8" fill="#f23645"/>
<rect x="797.99" y="139.5" width="1" height="33.3" fill="#089981"/>
<rect x="796" y="149.3" width="4" height="23.5" fill="#089981"/>
<rect x="802.68" y="124.2" width="1" height="29.4" fill="#089981"/>
<rect x="801" y="139.9" width="4" height="9.8" fill="#089981"/>
<rect x="807.37" y="127.7" width="1" height="42.0" fill="#f23645"/>
<rect x="806" y="139.9" width="4" height="22.5" fill="#f23645"/>
<rect x="812.06" y="158.8" width="1" height="22.5" fill="#f23645"/>
<rect x="811" y="161.8" width="4" height="17.6" fill="#f23645"/>
<rect x="816.75" y="171.2" width="1" height="49.4" fill="#f23645"/>
<rect x="815" y="179.0" width="4" height="28.8" fill="#f23645"/>
<rect x="821.45" y="161.4" width="1" height="106.3" fill="#089981"/>
<rect x="820" y="172.0" width="4" height="35.9" fill="#089981"/>
<rect x="826.14" y="168.0" width="1" height="52.5" fill="#f23645"/>
<rect x="825" y="172.0" width="4" height="34.9" fill="#f23645"/>
<rect x="830.83" y="193.1" width="1" height="27.5" fill="#f23645"/>
<rect x="829" y="206.5" width="4" height="11.2" fill="#f23645"/>
<rect x="835.52" y="193.1" width="1" height="32.4" fill="#f23645"/>
<rect x="834" y="217.3" width="4" height="1.0" fill="#f23645"/>
<rect x="840.21" y="184.3" width="1" height="42.2" fill="#f23645"/>
<rect x="839" y="217.3" width="4" height="1.0" fill="#f23645"/>
<rect x="844.90" y="215.1" width="1" height="10.4" fill="#f23645"/>
<rect x="843" y="217.6" width="4" height="1.4" fill="#f23645"/>
<rect x="849.59" y="209.8" width="1" height="25.5" fill="#089981"/>
<rect x="848" y="219.0" width="4" height="1.0" fill="#089981"/>
<rect x="854.28" y="201.4" width="1" height="28.0" fill="#089981"/>
<rect x="853" y="209.8" width="4" height="9.8" fill="#089981"/>
<rect x="858.97" y="199.4" width="1" height="33.9" fill="#f23645"/>
<rect x="857" y="209.8" width="4" height="16.3" fill="#f23645"/>
<rect x="863.66" y="202.5" width="1" height="38.0" fill="#089981"/>
<rect x="862" y="204.9" width="4" height="21.2" fill="#089981"/>
<rect x="868.36" y="203.3" width="1" height="27.1" fill="#f23645"/>
<rect x="867" y="204.9" width="4" height="12.7" fill="#f23645"/>
<rect x="873.05" y="196.1" width="1" height="23.5" fill="#089981"/>
<rect x="872" y="208.8" width="4" height="8.8" fill="#089981"/>
<rect x="877.74" y="204.5" width="1" height="6.3" fill="#089981"/>
<rect x="876" y="207.8" width="4" height="1.0" fill="#089981"/>
<rect x="882.43" y="206.5" width="1" height="16.5" fill="#f23645"/>
<rect x="881" y="207.8" width="4" height="15.1" fill="#f23645"/>
<rect x="887.12" y="213.1" width="1" height="17.3" fill="#f23645"/>
<rect x="886" y="222.2" width="4" height="3.9" fill="#f23645"/>
<rect x="891.81" y="216.3" width="1" height="31.4" fill="#f23645"/>
<rect x="890" y="225.1" width="4" height="1.4" fill="#f23645"/>
<rect x="896.50" y="214.3" width="1" height="17.1" fill="#089981"/>
<rect x="895" y="216.7" width="4" height="9.8" fill="#089981"/>
<rect x="901.19" y="197.1" width="1" height="21.2" fill="#089981"/>
<rect x="900" y="201.0" width="4" height="16.1" fill="#089981"/>
<rect x="905.88" y="189.2" width="1" height="44.7" fill="#f23645"/>
<rect x="904" y="201.0" width="4" height="21.2" fill="#f23645"/>
<rect x="910.57" y="213.1" width="1" height="11.8" fill="#089981"/>
<rect x="909" y="218.2" width="4" height="3.9" fill="#089981"/>
<rect x="915.26" y="216.7" width="1" height="6.9" fill="#f23645"/>
<rect x="914" y="218.2" width="4" height="5.3" fill="#f23645"/></g>
<rect x="0" y="27" width="1.3" height="687" fill="#e9eaec"/>
<rect x="0" y="93" width="1144" height="1.5" fill="#3262cc"/>
<rect x="0" y="274.2" width="1144" height="1.5" fill="#3262cc"/>
<line x1="757" y1="93.8" x2="1005" y2="251.2" stroke="#3262cc" stroke-width="1.7"/>
<line x1="2" y1="223.3" x2="1144" y2="223.3" stroke="#f23645" stroke-width="1" stroke-dasharray="1 2" opacity="0.6"/>
<rect x="975.300" y="243.500" width="75.900" height="41.700" fill="none" stroke="#e6211e" stroke-width="2.600"/>
<text x="967.60" y="87.20" font-size="14.6" fill="#ee2b36" font-family="'Liberation Sans', 'Noto Sans CJK KR', sans-serif">저항</text>
<text x="876.05" y="158.20" font-size="14.6" fill="#ee2b36" font-family="'Liberation Sans', 'Noto Sans CJK KR', sans-serif">하락 추세</text>
<text x="799.41" y="299.20" font-size="14.6" fill="#ee2b36" font-family="'Liberation Sans', 'Noto Sans CJK KR', sans-serif">지지</text>
<text x="975.08" y="310.40" font-size="14.6" fill="#ee2b36" font-family="'Liberation Sans', 'Noto Sans CJK KR', sans-serif">리테스트 확인</text>
<text x="1151.50" y="44.80" font-size="10.7" fill="#131722" textLength="44.8" lengthAdjust="spacingAndGlyphs">115,000.00</text>
<text x="1151.50" y="68.62" font-size="10.7" fill="#131722" textLength="44.8" lengthAdjust="spacingAndGlyphs">112,500.00</text>
<text x="1151.50" y="92.44" font-size="10.7" fill="#131722" textLength="44.8" lengthAdjust="spacingAndGlyphs">110,000.00</text>
<text x="1151.50" y="116.26" font-size="10.7" fill="#131722" textLength="44.8" lengthAdjust="spacingAndGlyphs">107,500.00</text>
<text x="1151.50" y="140.08" font-size="10.7" fill="#131722" textLength="44.8" lengthAdjust="spacingAndGlyphs">105,000.00</text>
<text x="1151.50" y="163.90" font-size="10.7" fill="#131722" textLength="44.8" lengthAdjust="spacingAndGlyphs">102,500.00</text>
<text x="1151.50" y="187.72" font-size="10.7" fill="#131722" textLength="44.8" lengthAdjust="spacingAndGlyphs">100,000.00</text>
<text x="1151.50" y="211.54" font-size="10.7" fill="#131722" textLength="41.0" lengthAdjust="spacingAndGlyphs">97,500.00</text>
<text x="1151.50" y="235.36" font-size="10.7" fill="#131722" textLength="41.0" lengthAdjust="spacingAndGlyphs">95,000.00</text>
<text x="1151.50" y="259.18" font-size="10.7" fill="#131722" textLength="41.0" lengthAdjust="spacingAndGlyphs">92,500.00</text>
<text x="1151.50" y="283.00" font-size="10.7" fill="#131722" textLength="41.0" lengthAdjust="spacingAndGlyphs">90,000.00</text>
<text x="1151.50" y="306.82" font-size="10.7" fill="#131722" textLength="41.0" lengthAdjust="spacingAndGlyphs">87,500.00</text>
<text x="1151.50" y="330.64" font-size="10.7" fill="#131722" textLength="41.0" lengthAdjust="spacingAndGlyphs">85,000.00</text>
<text x="1151.50" y="354.46" font-size="10.7" fill="#131722" textLength="41.0" lengthAdjust="spacingAndGlyphs">82,500.00</text>
<text x="1151.50" y="378.28" font-size="10.7" fill="#131722" textLength="41.0" lengthAdjust="spacingAndGlyphs">80,000.00</text>
<text x="1151.50" y="402.10" font-size="10.7" fill="#131722" textLength="41.0" lengthAdjust="spacingAndGlyphs">77,500.00</text>
<text x="1151.50" y="425.92" font-size="10.7" fill="#131722" textLength="41.0" lengthAdjust="spacingAndGlyphs">75,000.00</text>
<text x="1151.50" y="449.74" font-size="10.7" fill="#131722" textLength="41.0" lengthAdjust="spacingAndGlyphs">72,500.00</text>
<text x="1151.50" y="473.56" font-size="10.7" fill="#131722" textLength="41.0" lengthAdjust="spacingAndGlyphs">70,000.00</text>
<text x="1151.50" y="497.38" font-size="10.7" fill="#131722" textLength="41.0" lengthAdjust="spacingAndGlyphs">67,500.00</text>
<text x="1151.50" y="521.20" font-size="10.7" fill="#131722" textLength="41.0" lengthAdjust="spacingAndGlyphs">65,000.00</text>
<text x="1151.50" y="545.02" font-size="10.7" fill="#131722" textLength="41.0" lengthAdjust="spacingAndGlyphs">62,500.00</text>
<text x="1151.50" y="568.84" font-size="10.7" fill="#131722" textLength="41.0" lengthAdjust="spacingAndGlyphs">60,000.00</text>
<text x="1151.50" y="592.66" font-size="10.7" fill="#131722" textLength="41.0" lengthAdjust="spacingAndGlyphs">57,500.00</text>
<text x="1151.50" y="616.48" font-size="10.7" fill="#131722" textLength="41.0" lengthAdjust="spacingAndGlyphs">55,000.00</text>
<text x="1151.50" y="640.30" font-size="10.7" fill="#131722" textLength="41.0" lengthAdjust="spacingAndGlyphs">52,500.00</text>
<text x="1151.50" y="664.12" font-size="10.7" fill="#131722" textLength="41.0" lengthAdjust="spacingAndGlyphs">50,000.00</text>
<text x="1151.50" y="687.94" font-size="10.7" fill="#131722" textLength="41.0" lengthAdjust="spacingAndGlyphs">47,500.00</text>
<rect x="1144" y="87.5" width="56" height="13" fill="#2962ff"/>
<text x="1151.50" y="97.40" font-size="10.5" fill="#fff" font-weight="bold" textLength="45.5" lengthAdjust="spacingAndGlyphs">109,571.57</text>
<rect x="1144" y="269" width="52" height="12.6" fill="#2962ff"/>
<text x="1151.50" y="278.90" font-size="10.5" fill="#fff" font-weight="bold" textLength="41.5" lengthAdjust="spacingAndGlyphs">90,514.00</text>
<rect x="1144" y="216.5" width="52" height="24" rx="1" fill="#f23645"/>
<text x="1151.50" y="226.00" font-size="10.5" fill="#fff" font-weight="bold" textLength="41.5" lengthAdjust="spacingAndGlyphs">96,000.00</text>
<text x="1151.50" y="237.20" font-size="10.5" fill="#fff" textLength="36.0" lengthAdjust="spacingAndGlyphs" opacity="0.8">11:43:49</text>
<rect x="1144" y="678" width="31" height="12.3" fill="#ef5350"/>
<text x="1150.50" y="688.00" font-size="10.5" fill="#fff" font-weight="bold" textLength="20.5" lengthAdjust="spacingAndGlyphs">3.9K</text>
<g transform="translate(1174.6,701.8)" fill="none" stroke="#131722" stroke-width="1.1"><path d="M-2.9 -5H2.9L5.8 0L2.9 5H-2.9L-5.8 0Z" stroke-linejoin="round"/><circle r="1.7"/></g>
<text x="87.49" y="704.50" font-size="10" fill="#131722" textLength="5.2" lengthAdjust="spacingAndGlyphs">9</text>
<text x="93.19" y="704.30" font-size="8.2" fill="#131722" font-family="'Liberation Sans', 'Noto Sans CJK KR', sans-serif">월</text>
<text x="225.62" y="704.50" font-size="10" fill="#131722" textLength="10.4" lengthAdjust="spacingAndGlyphs">10</text>
<text x="236.52" y="704.30" font-size="8.2" fill="#131722" font-family="'Liberation Sans', 'Noto Sans CJK KR', sans-serif">월</text>
<text x="371.04" y="704.50" font-size="10" fill="#131722" textLength="10.4" lengthAdjust="spacingAndGlyphs">11</text>
<text x="381.94" y="704.30" font-size="8.2" fill="#131722" font-family="'Liberation Sans', 'Noto Sans CJK KR', sans-serif">월</text>
<text x="511.77" y="704.50" font-size="10" fill="#131722" textLength="10.4" lengthAdjust="spacingAndGlyphs">12</text>
<text x="522.67" y="704.30" font-size="8.2" fill="#131722" font-family="'Liberation Sans', 'Noto Sans CJK KR', sans-serif">월</text>
<text x="667.14" y="704.60" font-size="10.3" fill="#131722" font-weight="bold" text-anchor="middle" textLength="21.5" lengthAdjust="spacingAndGlyphs">2025</text>
<text x="805.21" y="704.50" font-size="10" fill="#131722" textLength="5.2" lengthAdjust="spacingAndGlyphs">2</text>
<text x="810.91" y="704.30" font-size="8.2" fill="#131722" font-family="'Liberation Sans', 'Noto Sans CJK KR', sans-serif">월</text>
<text x="936.56" y="704.50" font-size="10" fill="#131722" textLength="5.2" lengthAdjust="spacingAndGlyphs">3</text>
<text x="942.26" y="704.30" font-size="8.2" fill="#131722" font-family="'Liberation Sans', 'Noto Sans CJK KR', sans-serif">월</text>
<text x="1081.98" y="704.50" font-size="10" fill="#131722" textLength="5.2" lengthAdjust="spacingAndGlyphs">4</text>
<text x="1087.68" y="704.30" font-size="8.2" fill="#131722" font-family="'Liberation Sans', 'Noto Sans CJK KR', sans-serif">월</text>
<g fill="none" stroke="#131722" stroke-width="1.3"><circle cx="11.7" cy="8.7" r="4"/><line x1="14.6" y1="11.6" x2="18" y2="15"/></g>
<text x="22.00" y="13.30" font-size="10.8" fill="#131722" font-weight="bold" textLength="46.0" lengthAdjust="spacingAndGlyphs">BTCUSDT</text>
<g fill="none" stroke="#131722" stroke-width="1.1"><circle cx="91" cy="9.5" r="6.8"/><path d="M87.5 9.5h7M91 6v7"/></g>
<rect x="110.5" y="1" width="1" height="20" fill="#eceef1"/>
<rect x="146.0" y="1" width="1" height="20" fill="#eceef1"/>
<rect x="182.5" y="1" width="1" height="20" fill="#eceef1"/>
<rect x="276.0" y="1" width="1" height="20" fill="#eceef1"/>
<rect x="430.5" y="1" width="1" height="20" fill="#eceef1"/>
<text x="123.00" y="14.00" font-size="10.6" fill="#131722" font-family="'Liberation Sans', 'Noto Sans CJK KR', sans-serif">날</text>
<g fill="none" stroke="#131722" stroke-width="1.1"><rect x="159.5" y="4" width="3.4" height="10"/><path d="M161.2 1.5V4M161.2 14V16.5"/><rect x="167" y="6.3" width="3.2" height="6"/><path d="M168.6 4V6.3M168.6 12.3V14.6"/></g>
<g fill="none" stroke="#131722" stroke-width="1.1" stroke-linejoin="round"><path d="M194.5 6.5L198 3.5L201.5 6L206.5 2.2"/><path d="M194.5 15.8V13h3.3v-2.3h3.3v-2.5h3.4v-2.7h3v10.3Z"/><path d="M197.8 13v2.8M201.1 10.7v5.1M204.5 8.2v7.6"/></g>
<text x="213.50" y="13.60" font-size="10.6" fill="#131722" font-family="'Liberation Sans', 'Noto Sans CJK KR', sans-serif">지표</text>
<g fill="none" stroke="#131722" stroke-width="1.1"><rect x="252.2" y="3.6" width="4.6" height="4.6" rx="1"/><rect x="259.6" y="3.6" width="4.6" height="4.6" rx="1"/><rect x="252.2" y="10.8" width="4.6" height="4.6" rx="1"/><rect x="259.6" y="10.8" width="4.6" height="4.6" rx="1"/></g>
<g fill="none" stroke="#131722" stroke-width="1.1" stroke-linecap="round"><path d="M300.1 11.700A6.100 6.100 0 1 0 296 15.500"/><path d="M294.400 5.800v3.900h-2.900"/><path d="M287.300 5.300Q288.500 3 290.900 2.200M297.900 2.200Q300.300 3 301.500 5.300"/><path d="M296.300 14.500h5.200M298.900 11.900v5.200"/></g>
<text x="308.00" y="13.60" font-size="10.6" fill="#131722" font-family="'Liberation Sans', 'Noto Sans CJK KR', sans-serif">얼러트</text>
<g fill="none" stroke="#131722" stroke-width="1.1" stroke-linejoin="round"><path d="M363 5.8L357.800 9.5l5.200 3.700Z"/><path d="M369.800 5.800L364.600 9.5l5.200 3.700Z"/></g>
<text x="376.00" y="13.60" font-size="10.4" fill="#131722" font-family="'Liberation Sans', 'Noto Sans CJK KR', sans-serif">리플레이</text>
<g fill="none" stroke="#131722" stroke-width="1.2" stroke-linecap="round" stroke-linejoin="round"><path d="M447 5.5L443.5 8.7l3.5 3.2"/><path d="M443.8 8.7h6.2a3.7 3.7 0 0 1 3.7 3.7v0.6"/></g>
<g fill="none" stroke="#c8cbd2" stroke-width="1.2" stroke-linecap="round" stroke-linejoin="round"><path d="M479.5 5.5l3.5 3.200l-3.5 3.200"/><path d="M482.7 8.7h-6.2a3.700 3.700 0 0 0-3.700 3.700v0.6"/></g>
<rect x="1165.500" y="3.400" width="14" height="12.700" rx="2.200" fill="none" stroke="#43464f" stroke-width="1.1"/>
<text x="1191.20" y="9.60" font-size="10.3" fill="#131722">U</text>
<rect x="1198.300" y="4.300" width="1.700" height="4" fill="#2a6aa8"/>
<circle cx="18.5" cy="37.8" r="4.6" fill="#0f9b9b"/><circle cx="18.5" cy="37.8" r="2" fill="#5fe0dc"/>
<circle cx="13.2" cy="42.3" r="4.9" fill="#ffffff"/><circle cx="13.2" cy="42.3" r="4.4" fill="#f7931a"/>
<text x="13.20" y="44.60" font-size="6" fill="#fff" font-weight="bold" text-anchor="middle">B</text>
<text x="26.20" y="44.50" font-size="11.3" fill="#131722" textLength="37.8" lengthAdjust="spacingAndGlyphs">Bitcoin</text>
<text x="69.20" y="44.50" font-size="11.3" fill="#131722" textLength="4.2" lengthAdjust="spacingAndGlyphs">/</text>
<text x="79.30" y="44.50" font-size="11.3" fill="#131722" textLength="48.8" lengthAdjust="spacingAndGlyphs">TetherUS</text>
<text x="132.00" y="44.50" font-size="11.3" fill="#131722">·</text>
<text x="138.60" y="44.50" font-size="11.3" fill="#131722" textLength="5.5" lengthAdjust="spacingAndGlyphs">1</text>
<text x="145.40" y="44.80" font-size="10.2" fill="#131722" font-family="'Liberation Sans', 'Noto Sans CJK KR', sans-serif">날</text>
<text x="160.00" y="44.50" font-size="11.3" fill="#131722">·</text>
<text x="167.20" y="44.50" font-size="11.3" fill="#131722" textLength="46.6" lengthAdjust="spacingAndGlyphs">BINANCE</text>
<circle cx="233.700" cy="39.800" r="5" fill="#dcf2ef"/><circle cx="233.700" cy="39.800" r="2.900" fill="#089981"/>
<text x="253.50" y="44.60" font-size="9.6" fill="#131722" font-family="'Liberation Sans', 'Noto Sans CJK KR', sans-serif">시</text>
<text x="263.39" y="44.60" font-size="10" fill="#f23645" textLength="44.3" lengthAdjust="spacingAndGlyphs">96,551.01</text>
<text x="314.00" y="44.60" font-size="9.6" fill="#131722" font-family="'Liberation Sans', 'Noto Sans CJK KR', sans-serif">고</text>
<text x="323.89" y="44.60" font-size="10" fill="#f23645" textLength="44.3" lengthAdjust="spacingAndGlyphs">96,650.00</text>
<text x="374.00" y="44.60" font-size="9.6" fill="#131722" font-family="'Liberation Sans', 'Noto Sans CJK KR', sans-serif">저</text>
<text x="383.89" y="44.60" font-size="10" fill="#f23645" textLength="44.3" lengthAdjust="spacingAndGlyphs">96,000.00</text>
<text x="434.50" y="44.60" font-size="9.6" fill="#131722" font-family="'Liberation Sans', 'Noto Sans CJK KR', sans-serif">종</text>
<text x="444.39" y="44.60" font-size="10" fill="#f23645" textLength="44.3" lengthAdjust="spacingAndGlyphs">96,000.00</text>
<text x="495.50" y="44.60" font-size="10" fill="#f23645" textLength="75.5" lengthAdjust="spacingAndGlyphs">−551.01 (−0.57%)</text>
<rect x="8.5" y="52.5" width="61.5" height="25.7" rx="4" fill="#fff" stroke="#f2606c" stroke-width="1"/>
<text x="39.30" y="64.30" font-size="10.6" fill="#f23645" text-anchor="middle" textLength="44.5" lengthAdjust="spacingAndGlyphs" stroke="#f23645" stroke-width="0.35">96,000.00</text>
<text x="35.30" y="74.80" font-size="8" fill="#f23645" font-family="'Liberation Sans', 'Noto Sans CJK KR', sans-serif">셀</text>
<text x="76.30" y="69.80" font-size="8.8" fill="#2a2e39" textLength="15.2" lengthAdjust="spacingAndGlyphs">0.01</text>
<rect x="98" y="52.5" width="61.5" height="25.7" rx="4" fill="#fff" stroke="#5b84f0" stroke-width="1"/>
<text x="128.80" y="64.30" font-size="10.6" fill="#2962ff" text-anchor="middle" textLength="44.5" lengthAdjust="spacingAndGlyphs" stroke="#2962ff" stroke-width="0.35">96,000.01</text>
<text x="120.81" y="74.80" font-size="8" fill="#2962ff" font-family="'Liberation Sans', 'Noto Sans CJK KR', sans-serif">바이</text>
<rect x="3" y="87" width="85" height="12" fill="#ffffff" opacity="0.72"/>
<text x="10.00" y="95.90" font-size="9.3" fill="#131722" font-family="'Liberation Sans', 'Noto Sans CJK KR', sans-serif">볼륨</text>
<text x="32.50" y="95.80" font-size="9.8" fill="#131722" textLength="24.0" lengthAdjust="spacingAndGlyphs">· BTC</text>
<text x="63.00" y="95.80" font-size="9.8" fill="#f7525f" textLength="21.0" lengthAdjust="spacingAndGlyphs" opacity="0.85">3.9K</text>
<rect x="9.8" y="102.8" width="20.800" height="15.6" rx="3" fill="#fff" stroke="#eef0f2" stroke-width="1"/>
<path d="M16.900 112.300l3.100-2.900l3.100 2.900" fill="none" stroke="#131722" stroke-width="1.3"/>
<g fill="#131722" stroke="#fff" stroke-width="2" paint-order="stroke"><path d="M10.700 668.300h9.500v11.400h-4.800v-6.800h-4.700Z"/><circle cx="23.700" cy="670.600" r="2.300"/><path d="M27.900 668.300h5.700l-4.900 11.400h-5.700Z"/></g>
<text x="40.50" y="679.80" font-size="15.8" fill="#131722" font-weight="bold" textLength="94.5" lengthAdjust="spacingAndGlyphs" stroke="#fff" stroke-width="2.2" paint-order="stroke" stroke-linejoin="round">TradingView</text>
<circle cx="916" cy="680" r="7.400" fill="#fff" stroke="#9c27b0" stroke-width="1.400"/><path d="M917.400 675.600l-3.800 5h2.700l-1 4l4-5.300h-2.800Z" fill="#9c27b0"/>
</svg>
</body></html>
